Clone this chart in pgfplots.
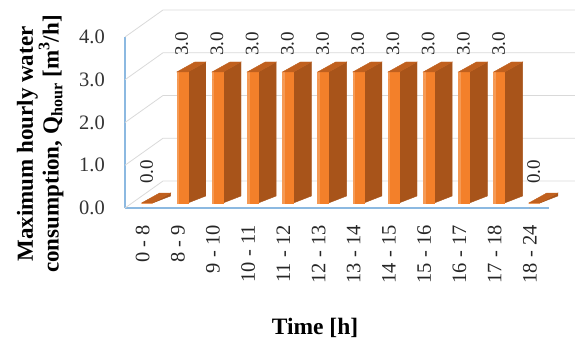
\documentclass[border=0pt]{standalone}
\usepackage{fontspec}
\setmainfont{Liberation Serif}
\usepackage{pgfplots}
\pgfplotsset{compat=1.18}
\definecolor{barfront}{RGB}{243,128,42}
\definecolor{barside}{RGB}{168,84,26}
\definecolor{bartop}{RGB}{192,96,30}
\definecolor{axblue}{RGB}{140,185,225}
\definecolor{gridc}{RGB}{217,217,217}
\pgfplotstableread{
x y
0 0
1 3
2 3
3 3
4 3
5 3
6 3
7 3
8 3
9 3
10 3
11 0
}\datatable
\begin{document}
\begin{tikzpicture}
\path[use as bounding box] (-125pt,-134pt) rectangle (450pt,208pt);
\begin{axis}[
  at={(0,0)}, anchor=south west,
  x=35.2pt, y=42.75pt,
  xmin=-0.5, xmax=11.55, ymin=0, ymax=4,
  clip=false,
  axis x line*=bottom, axis y line*=left,
  axis line style={color=axblue, line width=1.3pt, -},
  major tick length=0pt,
  xtick={0,...,11},
  xticklabels={0 - 8, 8 - 9, 9 - 10, 10 - 11, 11 - 12, 12 - 13, 13 - 14, 14 - 15, 15 - 16, 16 - 17, 17 - 18, 18 - 24},
  xticklabel style={rotate=90, anchor=east, inner sep=0pt, font=\fontsize{20.5}{21}\selectfont, text=black!85},
  xticklabel shift=17pt,
  ytick={0,1,2,3,4},
  yticklabel style={anchor=east, inner sep=0pt, font=\fontsize{20.5}{21}\selectfont, text=black!80,
    /pgf/number format/.cd, fixed, fixed zerofill, precision=1, assume math mode=true},
  yticklabel shift=20pt,
  ylabel={Maximum hourly water\\consumption, Q\textsubscript{hour} [m\textsuperscript{3}/h]},
  ylabel style={at={(axis description cs:-0.2,0.374)}, anchor=center, align=center,
    font=\fontsize{23}{21}\selectfont\bfseries},
  xlabel={Time [h]},
  xlabel style={at={(axis description cs:0.448,-0.702)}, anchor=center,
    font=\fontsize{23.5}{24}\selectfont\bfseries},
]
% back wall and floor grid
\pgfplotsinvokeforeach{0,1,2,3,4}{
  \draw[gridc, line width=0.8pt] (axis cs:-0.5,#1) -- ([shift={(38pt,27pt)}]axis cs:-0.5,#1)
        -- ([shift={(38pt,27pt)}]axis cs:11.55,#1);
}
\addplot[
  scatter, only marks, mark=*, mark size=0.01pt, color=barfront,
  visualization depends on={\thisrow{y} \as \yval},
  scatter/@pre marker code/.code={%
    \pgfkeys{/pgf/fpu=false}%
    \pgfmathsetmacro\yt{5+\yval*0.92}%
    \pgfmathsetmacro\yb{\yt-\yval*43.67}%
    \pgfmathsetmacro\ybr{\yb+7}%
    \pgfmathsetmacro\ytb{\yt+10}%
    \fill[barside] (10pt,\yb pt) -- (28pt,\ybr pt) -- (28pt,\ytb pt) -- (10pt,\yt pt) -- cycle;
    \fill[barfront] (-1pt,\yb pt) rectangle (10pt,\yt pt);
    \fill[barfront!80!white] (-1pt,\yb pt) rectangle (0.5pt,\yt pt);
    \fill[bartop] (-1pt,\yt pt) -- (10pt,\yt pt) -- (28pt,\ytb pt) -- (17pt,\ytb pt) -- cycle;
  },
  scatter/@post marker code/.code={},
] table {\datatable};
\addplot[
  only marks, mark=none,
  nodes near coords,
  every node near coord/.append style={xshift=4pt, yshift=24pt, rotate=90, anchor=west,
    inner sep=0pt, font=\fontsize{19}{20}\selectfont, text=black!85,
    /pgf/number format/.cd, fixed, fixed zerofill, precision=1, assume math mode=true},
] table {\datatable};
\end{axis}
\end{tikzpicture}
\end{document}
